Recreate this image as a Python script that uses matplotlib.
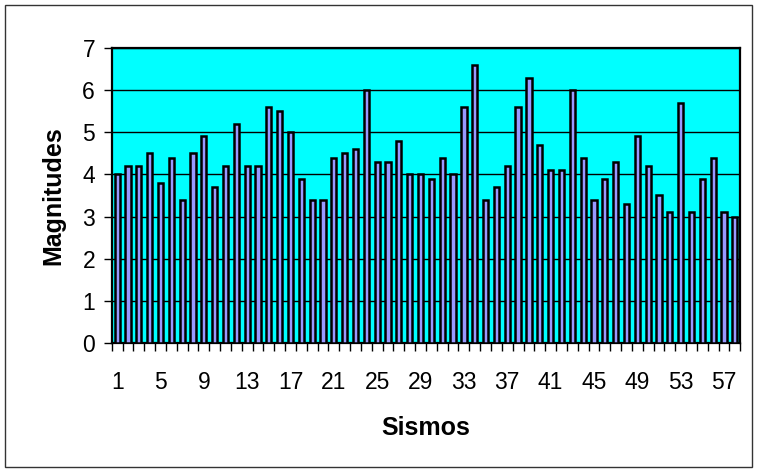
import numpy as np
import matplotlib.pyplot as plt
from matplotlib.patches import Rectangle

plt.rcParams['font.family'] = ['Liberation Sans', 'DejaVu Sans']

sismos = np.arange(1, 59)
magnitudes = [4.0, 4.2, 4.2, 4.5, 3.8, 4.4, 3.4, 4.5, 4.9, 3.7,
              4.2, 5.2, 4.2, 4.2, 5.6, 5.5, 5.0, 3.9, 3.4, 3.4,
              4.4, 4.5, 4.6, 6.0, 4.3, 4.3, 4.8, 4.0, 4.0, 3.9,
              4.4, 4.0, 5.6, 6.6, 3.4, 3.7, 4.2, 5.6, 6.3, 4.7,
              4.1, 4.1, 6.0, 4.4, 3.4, 3.9, 4.3, 3.3, 4.9, 4.2,
              3.5, 3.1, 5.7, 3.1, 3.9, 4.4, 3.1, 3.0]
xtick_labels = list(range(1, 59, 4))

fig = plt.figure(figsize=(7.6, 4.71), dpi=100)
ax = fig.add_axes([0.147, 0.272, 0.827, 0.626])

ax.set_facecolor('#00FFFF')
ax.bar(sismos, magnitudes, width=0.48, color='#9999FF', edgecolor='black',
       linewidth=1.8, zorder=3)

ax.set_xlim(0.5, 58.5)
ax.set_ylim(0, 7)
ax.set_yticks(range(0, 8))
ax.yaxis.grid(True, color='black', linewidth=1.0, zorder=1)

ax.set_xticks(xtick_labels)
ax.set_xticklabels([str(v) for v in xtick_labels])
ax.set_xticks(np.arange(0.5, 59, 1), minor=True)
ax.tick_params(axis='x', which='major', length=0, pad=20, labelsize=16.5)
ax.tick_params(axis='x', which='minor', length=6, width=1, direction='out')
ax.tick_params(axis='y', length=6, width=1, pad=6, labelsize=16.5)

for s in ax.spines.values():
    s.set_linewidth(1.6)

ax.set_xlabel('Sismos', fontsize=18, fontweight='bold', labelpad=16)
ax.set_ylabel('Magnitudes', fontsize=18, fontweight='bold', labelpad=12)

fig.patches.append(Rectangle((0.007, 0.008), 0.983, 0.982, transform=fig.transFigure,
                             fill=False, edgecolor='#333333', linewidth=1.0))

fig.savefig('out.png', dpi=100)
